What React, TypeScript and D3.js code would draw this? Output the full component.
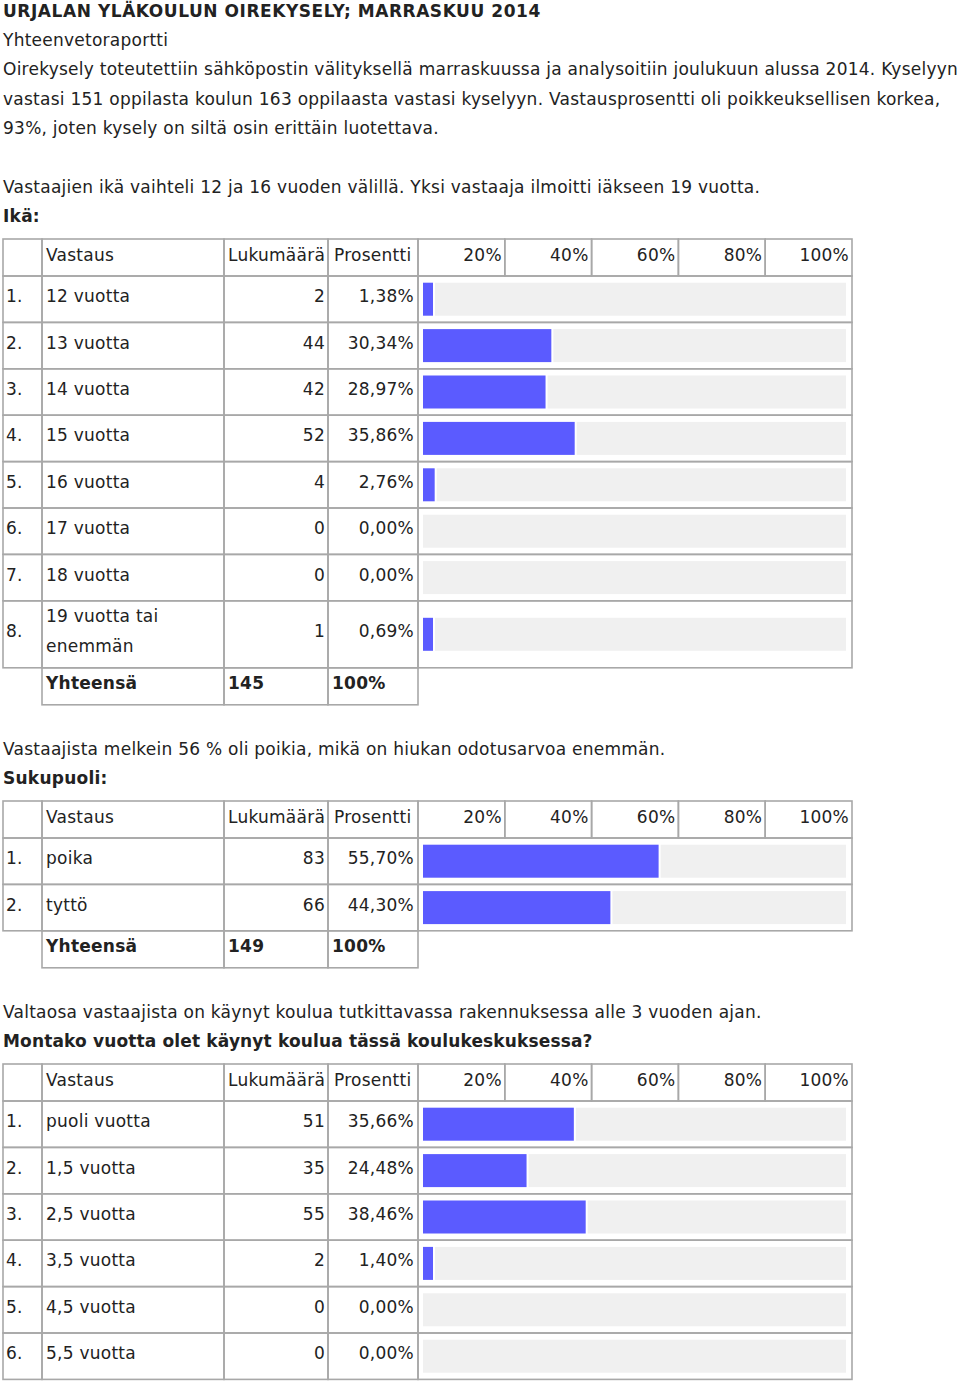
import React from "react";
import * as d3 from "d3";

const TITLE = "URJALAN YLÄKOULUN OIREKYSELY; MARRASKUU 2014";
const introLines = [
  "Yhteenvetoraportti",
  "Oirekysely toteutettiin sähköpostin välityksellä marraskuussa ja analysoitiin joulukuun alussa 2014. Kyselyyn",
  "vastasi 151 oppilasta koulun 163 oppilaasta vastasi kyselyyn. Vastausprosentti oli poikkeuksellisen korkea,",
  "93%, joten kysely on siltä osin erittäin luotettava.",
];

const ageNote = "Vastaajien ikä vaihteli 12 ja 16 vuoden välillä. Yksi vastaaja ilmoitti iäkseen 19 vuotta.";
const ageTitle = "Ikä:";
const ageLabels = ["12 vuotta", "13 vuotta", "14 vuotta", "15 vuotta", "16 vuotta", "17 vuotta", "18 vuotta", "19 vuotta tai|enemmän"];
const ageCounts = [2, 44, 42, 52, 4, 0, 0, 1];
const agePcts = [1.38, 30.34, 28.97, 35.86, 2.76, 0, 0, 0.69];
const ageTotal = 145;

const genderNote = "Vastaajista melkein 56 % oli poikia, mikä on hiukan odotusarvoa enemmän.";
const genderTitle = "Sukupuoli:";
const genderLabels = ["poika", "tyttö"];
const genderCounts = [83, 66];
const genderPcts = [55.7, 44.3];
const genderTotal = 149;

const yearsNote = "Valtaosa vastaajista on käynyt koulua tutkittavassa rakennuksessa alle 3 vuoden ajan.";
const yearsTitle = "Montako vuotta olet käynyt koulua tässä koulukeskuksessa?";
const yearsLabels = ["puoli vuotta", "1,5 vuotta", "2,5 vuotta", "3,5 vuotta", "4,5 vuotta", "5,5 vuotta"];
const yearsCounts = [51, 35, 55, 2, 0, 0];
const yearsPcts = [35.66, 24.48, 38.46, 1.4, 0, 0];

const headerLabels = ["Vastaus", "Lukumäärä", "Prosentti"];
const scaleTicks = [20, 40, 60, 80, 100];
const totalLabel = "Yhteensä";

const FONT = "'DejaVu Sans', Verdana, sans-serif";
const FS = 17;
const LS = 0.25;
const TEXT = "#222";
const BORDER = "#a8a8a8";
const BAR = "#5b5bff";
const TRACK = "#f0f0f0";

const COL = { x0: 3, x1: 42, x2: 224, x3: 328, x4: 418, x5: 852 };
const HEADER_H = 37;
const ROW_H = 46.4;

const x = d3.scaleLinear().domain([0, 100]).range([423, 846]);
const tickX = d3.scaleLinear().domain([0, 100]).range([COL.x4, COL.x5]);

const fmtPct = (v: number) => d3.format(".2f")(v).replace(".", ",") + "%";

function Cell({ x0, x1, y0, y1 }: { x0: number; x1: number; y0: number; y1: number }) {
  return <rect x={x0} y={y0} width={x1 - x0} height={y1 - y0} fill="none" stroke={BORDER} strokeWidth={1.6} />;
}

function Table({
  top,
  labels,
  counts,
  pcts,
  total,
  rowHeights,
}: {
  top: number;
  labels: string[];
  counts: number[];
  pcts: number[];
  total?: number;
  rowHeights?: number[];
}) {
  const els: React.ReactNode[] = [];
  const hb = top + HEADER_H;
  const hm = (top + hb) / 2;
  els.push(<Cell key="h0" x0={COL.x0} x1={COL.x1} y0={top} y1={hb} />);
  els.push(<Cell key="h1" x0={COL.x1} x1={COL.x2} y0={top} y1={hb} />);
  els.push(<Cell key="h2" x0={COL.x2} x1={COL.x3} y0={top} y1={hb} />);
  els.push(<Cell key="h3" x0={COL.x3} x1={COL.x4} y0={top} y1={hb} />);
  els.push(<text key="ht1" x={COL.x1 + 4} y={hm + 3}>{headerLabels[0]}</text>);
  els.push(<text key="ht2" x={COL.x2 + 4} y={hm + 3}>{headerLabels[1]}</text>);
  els.push(<text key="ht3" x={COL.x3 + 6} y={hm + 3}>{headerLabels[2]}</text>);
  scaleTicks.forEach((t, i) => {
    const a = i === 0 ? COL.x4 : tickX(scaleTicks[i - 1]);
    const b = tickX(t);
    els.push(<Cell key={"hc" + i} x0={a} x1={b} y0={top} y1={hb} />);
    els.push(
      <text key={"hl" + i} x={b - 3} y={hm + 3} textAnchor="end">
        {t + "%"}
      </text>
    );
  });
  let y = hb;
  labels.forEach((lab, i) => {
    const h = rowHeights ? rowHeights[i] : ROW_H;
    const y0 = y;
    const y1 = y + h;
    const m = (y0 + y1) / 2;
    els.push(<Cell key={"c0" + i} x0={COL.x0} x1={COL.x1} y0={y0} y1={y1} />);
    els.push(<Cell key={"c1" + i} x0={COL.x1} x1={COL.x2} y0={y0} y1={y1} />);
    els.push(<Cell key={"c2" + i} x0={COL.x2} x1={COL.x3} y0={y0} y1={y1} />);
    els.push(<Cell key={"c3" + i} x0={COL.x3} x1={COL.x4} y0={y0} y1={y1} />);
    els.push(<Cell key={"c4" + i} x0={COL.x4} x1={COL.x5} y0={y0} y1={y1} />);
    els.push(<text key={"n" + i} x={COL.x0 + 3} y={m + 3}>{i + 1 + "."}</text>);
    const parts = lab.split("|");
    if (parts.length === 1) {
      els.push(<text key={"l" + i} x={COL.x1 + 4} y={m + 3}>{lab}</text>);
    } else {
      parts.forEach((p, j) => {
        els.push(
          <text key={"l" + i + "_" + j} x={COL.x1 + 4} y={m + 3 + (j - (parts.length - 1) / 2) * 30}>
            {p}
          </text>
        );
      });
    }
    els.push(<text key={"cnt" + i} x={COL.x3 - 3} y={m + 3} textAnchor="end">{String(counts[i])}</text>);
    els.push(<text key={"pct" + i} x={COL.x4 - 4} y={m + 3} textAnchor="end">{fmtPct(pcts[i])}</text>);
    const bh = 33;
    const by = m - bh / 2;
    let trackStart = x(0);
    if (pcts[i] > 0) {
      const w = Math.max(x(pcts[i]) - x(0), 10);
      els.push(<rect key={"bar" + i} x={x(0)} y={by} width={w} height={bh} fill={BAR} />);
      trackStart = x(0) + w + 2;
    }
    els.push(<rect key={"tr" + i} x={trackStart} y={by} width={x(100) - trackStart} height={bh} fill={TRACK} />);
    y = y1;
  });
  if (total !== undefined) {
    const y0 = y;
    const y1 = y + HEADER_H;
    const m = (y0 + y1) / 2;
    els.push(<Cell key="t1" x0={COL.x1} x1={COL.x2} y0={y0} y1={y1} />);
    els.push(<Cell key="t2" x0={COL.x2} x1={COL.x3} y0={y0} y1={y1} />);
    els.push(<Cell key="t3" x0={COL.x3} x1={COL.x4} y0={y0} y1={y1} />);
    els.push(<text key="tt1" x={COL.x1 + 4} y={m + 3} fontWeight="bold">{totalLabel}</text>);
    els.push(<text key="tt2" x={COL.x2 + 4} y={m + 3} fontWeight="bold">{String(total)}</text>);
    els.push(<text key="tt3" x={COL.x3 + 4} y={m + 3} fontWeight="bold">100%</text>);
  }
  return <g>{els}</g>;
}

export default function App() {
  const ageRowHeights = ageLabels.map((l) => (l.includes("|") ? 67 : ROW_H));
  return (
    <svg
      width={960}
      height={1383}
      style={{ position: "absolute", left: 0, top: 0, background: "#fff" }}
      fontFamily={FONT}
      fontSize={FS}
      fill={TEXT}
      letterSpacing={LS}
    >
      <rect x={0} y={0} width={960} height={1383} fill="#fff" />
      <text x={3} y={17} fontWeight="bold" letterSpacing={0.55}>{TITLE}</text>
      {introLines.map((l, i) => (
        <text key={i} x={3} y={46 + i * 29.4}>{l}</text>
      ))}
      <text x={3} y={193}>{ageNote}</text>
      <text x={3} y={222} fontWeight="bold">{ageTitle}</text>
      <Table top={239} labels={ageLabels} counts={ageCounts} pcts={agePcts} total={ageTotal} rowHeights={ageRowHeights} />
      <text x={3} y={755}>{genderNote}</text>
      <text x={3} y={784} fontWeight="bold">{genderTitle}</text>
      <Table top={801} labels={genderLabels} counts={genderCounts} pcts={genderPcts} total={genderTotal} />
      <text x={3} y={1018}>{yearsNote}</text>
      <text x={3} y={1047} fontWeight="bold" letterSpacing={0.15}>{yearsTitle}</text>
      <Table top={1064} labels={yearsLabels} counts={yearsCounts} pcts={yearsPcts} />
    </svg>
  );
}
